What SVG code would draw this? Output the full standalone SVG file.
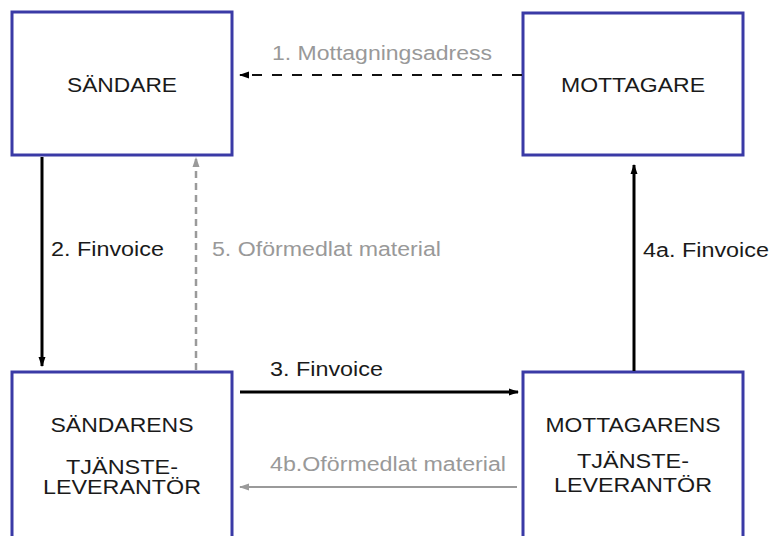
<svg xmlns="http://www.w3.org/2000/svg" width="770" height="536" viewBox="0 0 770 536">
<style>
.box{fill:#fff;stroke:#3a3aa6;stroke-width:3}
.t{font-family:"Liberation Sans",Arial,sans-serif;font-size:20px;fill:#1a1a1a}
.g{fill:#999}
.c{text-anchor:middle}
.blk{stroke:#000;stroke-width:3;fill:none}
.dsh{stroke:#111;stroke-width:2;fill:none;stroke-dasharray:10 10}
.gry{stroke:#9a9a9a;stroke-width:2;fill:none}
.gdsh{stroke:#9a9a9a;stroke-width:2.5;fill:none;stroke-dasharray:7 5}
</style>
<defs>
<marker id="ab" markerUnits="userSpaceOnUse" markerWidth="10" markerHeight="10" viewBox="0 0 10 10" refX="9" refY="5" orient="auto"><path d="M0,1.5 L10,5 L0,8.5 Z" fill="#000"/></marker>
<marker id="ag" markerUnits="userSpaceOnUse" markerWidth="10" markerHeight="10" viewBox="0 0 10 10" refX="9" refY="5" orient="auto"><path d="M0,1.5 L10,5 L0,8.5 Z" fill="#9a9a9a"/></marker>
</defs>
<g id="sandare">
<rect class="box" x="12" y="12" width="220" height="143"/>
<text class="t c" x="122" y="92" textLength="110" lengthAdjust="spacingAndGlyphs">SÄNDARE</text>
</g>
<g id="mottagare">
<rect class="box" x="523" y="13" width="220" height="142"/>
<text class="t c" x="633" y="92" textLength="144" lengthAdjust="spacingAndGlyphs">MOTTAGARE</text>
</g>
<g id="sandarens">
<rect class="box" x="12" y="372" width="220" height="180"/>
<text class="t c" x="122" y="432" textLength="143" lengthAdjust="spacingAndGlyphs">SÄNDARENS</text>
<text class="t c" x="122" y="474" textLength="112" lengthAdjust="spacingAndGlyphs">TJÄNSTE-</text>
<text class="t c" x="122" y="494" textLength="158" lengthAdjust="spacingAndGlyphs">LEVERANTÖR</text>
</g>
<g id="mottagarens">
<rect class="box" x="523" y="372" width="220" height="180"/>
<text class="t c" x="633" y="432" textLength="175" lengthAdjust="spacingAndGlyphs">MOTTAGARENS</text>
<text class="t c" x="633" y="468" textLength="112" lengthAdjust="spacingAndGlyphs">TJÄNSTE-</text>
<text class="t c" x="633" y="492" textLength="158" lengthAdjust="spacingAndGlyphs">LEVERANTÖR</text>
</g>
<g id="connectors">
<line class="dsh" x1="522" y1="75" x2="240" y2="75" marker-end="url(#ab)"/>
<line class="blk" x1="42" y1="157" x2="42" y2="366" marker-end="url(#ab)"/>
<line class="gdsh" x1="196" y1="370" x2="196" y2="158" marker-end="url(#ag)"/>
<line class="blk" x1="240" y1="392" x2="518" y2="392" marker-end="url(#ab)"/>
<line class="gry" x1="517" y1="487" x2="240" y2="487" marker-end="url(#ag)"/>
<line class="blk" x1="634" y1="371" x2="634" y2="165" marker-end="url(#ab)"/>
</g>
<g id="labels">
<text class="t g" x="272" y="60" textLength="220" lengthAdjust="spacingAndGlyphs">1. Mottagningsadress</text>
<text class="t" x="51" y="256" textLength="113" lengthAdjust="spacingAndGlyphs">2. Finvoice</text>
<text class="t g" x="212" y="256" textLength="229" lengthAdjust="spacingAndGlyphs">5. Oförmedlat material</text>
<text class="t" x="270" y="376" textLength="113" lengthAdjust="spacingAndGlyphs">3. Finvoice</text>
<text class="t g" x="270" y="471" textLength="236" lengthAdjust="spacingAndGlyphs">4b.Oförmedlat material</text>
<text class="t" x="643" y="257" textLength="126" lengthAdjust="spacingAndGlyphs">4a. Finvoice</text>
</g>
</svg>
